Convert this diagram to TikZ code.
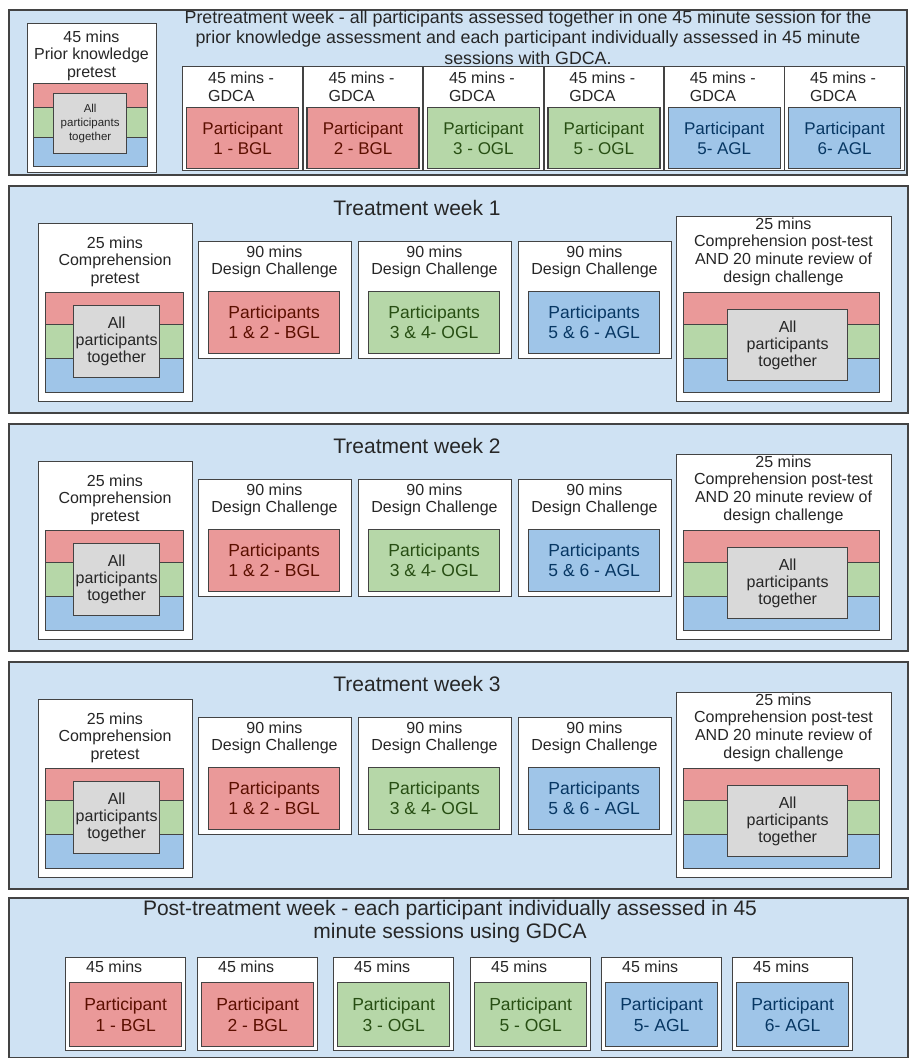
\documentclass[tikz,border=0pt]{standalone}
\usepackage{fontspec}
\setmainfont{Liberation Sans}
\definecolor{paneblue}{HTML}{CFE2F3}
\definecolor{redfill}{HTML}{EA9999}
\definecolor{greenfill}{HTML}{B6D7A8}
\definecolor{bluefill}{HTML}{9FC5E8}
\definecolor{greyfill}{HTML}{D9D9D9}
\definecolor{edge}{HTML}{434343}
\definecolor{redtext}{HTML}{5B0F00}
\definecolor{greentext}{HTML}{274E13}
\definecolor{bluetext}{HTML}{073763}
\definecolor{darktext}{HTML}{262626}
\begin{document}
\begin{tikzpicture}[x=1pt,y=-1pt]
\tikzstyle{box}=[draw=edge, line width=1.3pt, inner sep=0pt, anchor=north west]
\tikzstyle{panel}=[box, fill=paneblue, line width=1.7pt]
\tikzstyle{slot}=[box, fill=white]
\tikzstyle{redbg}=[box, fill=redfill]
\tikzstyle{greenbg}=[box, fill=greenfill]
\tikzstyle{bluebg}=[box, fill=bluefill]
\tikzstyle{greybg}=[box, fill=greyfill]
\tikzstyle{txt}=[inner sep=0pt, align=center, text=darktext]
\useasboundingbox (0,0) rectangle (909,1058);
% pretreatment week
\node[panel, minimum width=898, minimum height=165] (pre) at (8,9) {};
\node[txt, font=\fontsize{17.8}{20.5}\selectfont] (pretitle) at (528,37.5) {Pretreatment week - all participants assessed together in one 45 minute session for the\\prior knowledge assessment and each participant individually assessed in 45 minute\\sessions with GDCA.};
\node[slot, minimum width=129, minimum height=149] (prior) at (27,23) {};
\node[txt, font=\fontsize{16}{17.5}\selectfont] (priortxt) at (91.5,55.5) {45 mins\\Prior knowledge\\pretest};
\node[redbg, minimum width=114, minimum height=24] (priorr) at (33,83) {};
\node[greenbg, minimum width=114, minimum height=30] (priorg) at (33,107) {};
\node[bluebg, minimum width=114, minimum height=29] (priorb) at (33,137) {};
\node[greybg, minimum width=73, minimum height=60] (priorall) at (53,93) {};
\node[txt, font=\fontsize{11.5}{14}\selectfont] (priorallt) at (priorall) {All\\participants\\together};
\foreach \i/\who/\col in {0/1 - BGL/red, 1/2 - BGL/red, 2/3 - OGL/green, 3/5 - OGL/green, 4/5- AGL/blue, 5/6- AGL/blue} {
  \node[slot, minimum width=120, minimum height=104] (gdca\i) at (182+120.4*\i,66) {};
  \node[txt, align=left, anchor=west, font=\fontsize{16}{18}\selectfont] (gdcat\i) at (208+120.4*\i,87) {45 mins -\\GDCA};
  \node[\col bg, minimum width=112, minimum height=61] (part\i) at (186+120.4*\i,107) {};
  \node[txt, text=\col text, font=\fontsize{17}{20}\selectfont] (partt\i) at (part\i) {Participant\\\who};
}
% treatment weeks
\foreach \w/\T in {1/185, 2/423, 3/661} {
  \node[panel, minimum width=899, minimum height=227] (week\w) at (8,\T) {};
  \node[txt, font=\fontsize{21}{24}\selectfont] (weekt\w) at (417,\T+23) {Treatment week \w};
  \node[slot, minimum width=154, minimum height=178] (pretest\w) at (38,\T+38) {};
  \node[txt, font=\fontsize{16}{17.5}\selectfont] (pretestt\w) at (115,\T+76.5) {25 mins\\Comprehension\\pretest};
  \node[redbg, minimum width=138, minimum height=32] (prer\w) at (45,\T+107) {};
  \node[greenbg, minimum width=138, minimum height=34] (preg\w) at (45,\T+139) {};
  \node[bluebg, minimum width=138, minimum height=34] (preb\w) at (45,\T+173) {};
  \node[greybg, minimum width=86, minimum height=72] (preall\w) at (73,\T+120) {};
  \node[txt, font=\fontsize{16}{17}\selectfont] (prealltt\w) at (preall\w) {All\\participants\\together};
  \foreach \j/\x/\col/\who in {1/198/red/1 \& 2 - BGL, 2/358/green/3 \& 4- OGL, 3/518/blue/5 \& 6 - AGL} {
    \node[slot, minimum width=153, minimum height=117] (design\w\j) at (\x,\T+56) {};
    \node[txt, font=\fontsize{16}{17}\selectfont] (designt\w\j) at (\x+76.5,\T+76.5) {90 mins\\Design Challenge};
    \node[\col bg, minimum width=131, minimum height=62] (team\w\j) at (\x+10,\T+106) {};
    \node[txt, text=\col text, font=\fontsize{17.5}{20}\selectfont] (teamt\w\j) at (team\w\j) {Participants\\\who};
  }
  \node[slot, minimum width=215, minimum height=185] (posttest\w) at (676,\T+31) {};
  \node[txt, font=\fontsize{16}{17.7}\selectfont] (posttestt\w) at (783.5,\T+66.5) {25 mins\\Comprehension post-test\\AND 20 minute review of\\design challenge};
  \node[redbg, minimum width=196, minimum height=32] (postr\w) at (683,\T+107) {};
  \node[greenbg, minimum width=196, minimum height=34] (postg\w) at (683,\T+139) {};
  \node[bluebg, minimum width=196, minimum height=34] (postb\w) at (683,\T+173) {};
  \node[greybg, minimum width=120, minimum height=71] (postall\w) at (727,\T+124) {};
  \node[txt, font=\fontsize{16}{17}\selectfont] (postallt\w) at (postall\w) {All\\participants\\together};
}
% post-treatment week
\node[panel, minimum width=899, minimum height=160] (post) at (8,897) {};
\node[txt, font=\fontsize{21}{23}\selectfont] (posttitle) at (450,921.5) {Post-treatment week - each participant individually assessed in 45\\minute sessions using GDCA};
\foreach \i/\x/\who/\col in {0/65/1 - BGL/red, 1/197/2 - BGL/red, 2/333/3 - OGL/green, 3/470/5 - OGL/green, 4/601/5- AGL/blue, 5/732/6- AGL/blue} {
  \node[slot, minimum width=120, minimum height=93] (final\i) at (\x,957) {};
  \node[txt, anchor=west, font=\fontsize{16}{18}\selectfont] (finalt\i) at (\x+21,967) {45 mins};
  \node[\col bg, minimum width=112, minimum height=64] (solo\i) at (\x+4,982) {};
  \node[txt, text=\col text, font=\fontsize{17.5}{21}\selectfont] (solot\i) at (solo\i) {Participant\\\who};
}
\end{tikzpicture}
\end{document}
